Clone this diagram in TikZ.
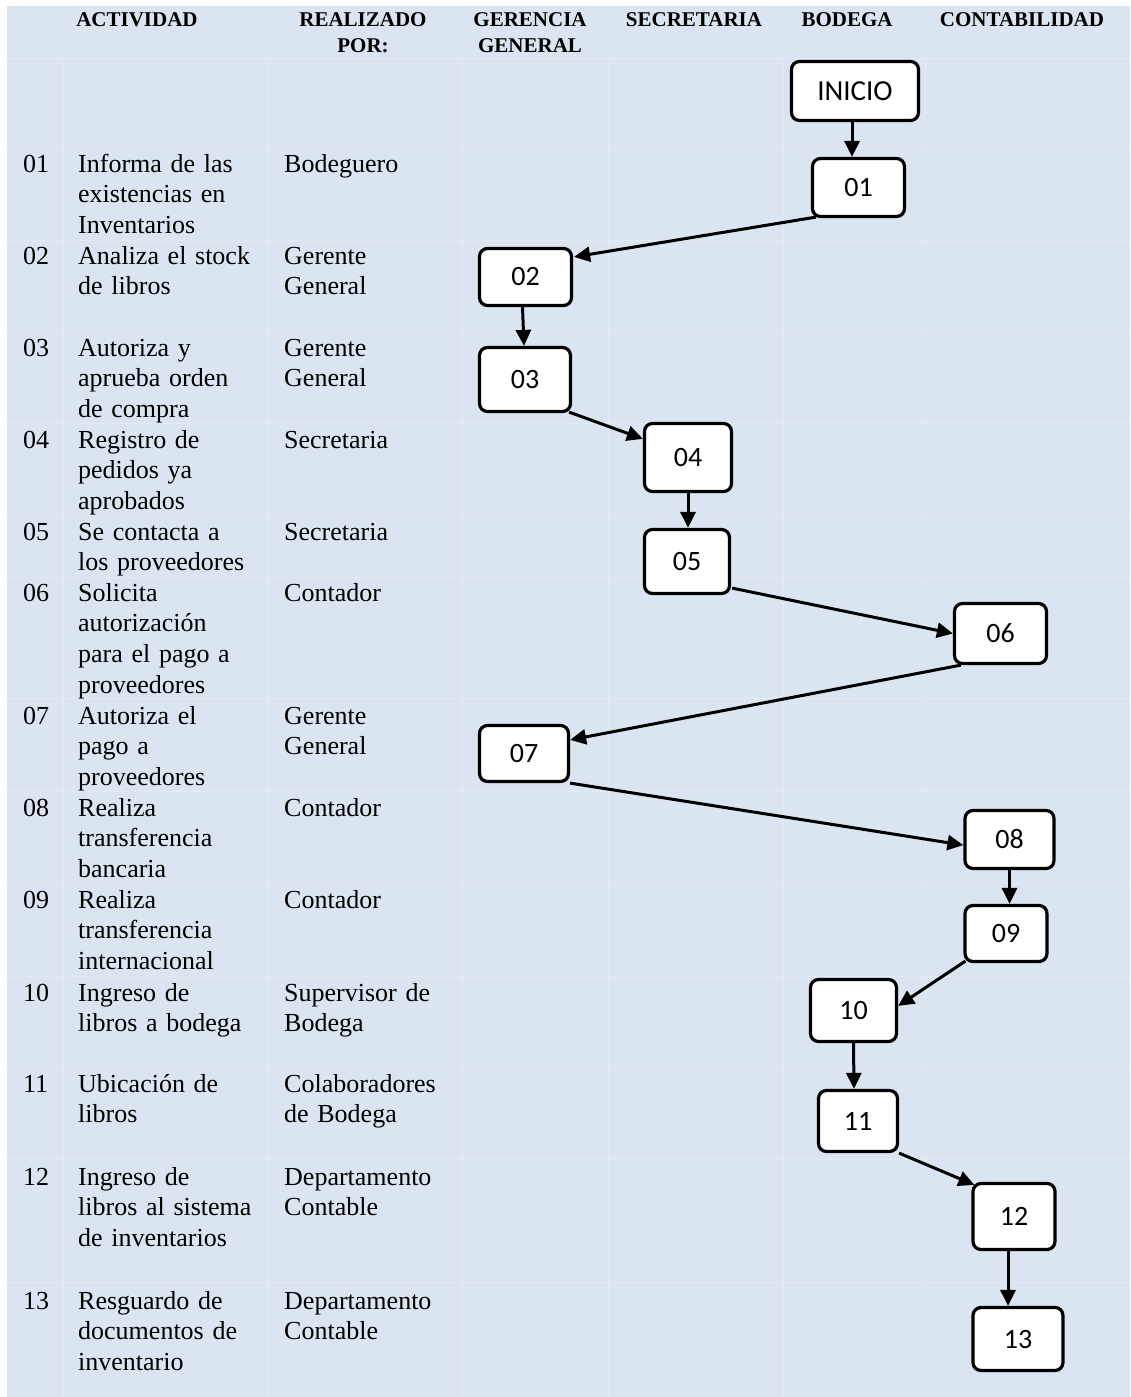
\documentclass[tikz,border=0pt]{standalone}
\usepackage{fontspec}
\setmainfont{Liberation Serif}
\newfontfamily\boxfont{Carlito}
\usetikzlibrary{arrows.meta,calc}
\definecolor{lanebg}{RGB}{219,229,241}
\definecolor{gridline}{RGB}{226,234,244}

\begin{document}
\begin{tikzpicture}[x=1pt,y=-1pt,
  stepbox/.style={draw=black, line width=3.2pt, fill=white, rounded corners=8pt,
    font=\boxfont\fontsize{28}{30}\selectfont, inner sep=0pt},
  flow/.style={line width=3pt, -{Triangle[length=16pt,width=15pt]}},
  head/.style={font=\bfseries\fontsize{21}{26}\selectfont, anchor=base,
    align=center, text width=200pt, inner sep=0pt},
  cell/.style={font=\fontsize{26}{30.8}\selectfont, anchor=base west,
    align=left, text width=200pt, inner sep=0pt},
  gridrule/.style={draw=gridline, line width=0.8pt}]

\useasboundingbox (0,0) rectangle (1130,1397);
\fill[lanebg] (7,6) rectangle (1130,1397);

% faint table rules
\foreach \gx in {63,268,462,608,783,925}
  \draw[gridrule] (\gx,58) -- (\gx,1397);
\foreach \gy in {58,148,240,332,423,515,577,698,791,883,976,1068,1159,1282}
  \draw[gridrule] (7,\gy) -- (1130,\gy);

% column headings
\node[head] (hAct) at (137,27) {ACTIVIDAD};
\node[head] (hPor) at (363,27) {REALIZADO\\POR:};
\node[head] (hGer) at (530,27) {GERENCIA\\GENERAL};
\node[head] (hSec) at (694,27) {SECRETARIA};
\node[head] (hBod) at (847,27) {BODEGA};
\node[head] (hCon) at (1022,27) {CONTABILIDAD};

% activity numbers, descriptions and who performs them
\foreach \num/\yb/\act/\who in {
  01/172/{Informa de las\\existencias en\\Inventarios}/{Bodeguero},
  02/264/{Analiza el stock\\de libros}/{Gerente\\General},
  03/356/{Autoriza y\\aprueba orden\\de compra}/{Gerente\\General},
  04/448/{Registro de\\pedidos ya\\aprobados}/{Secretaria},
  05/540/{Se contacta a\\los proveedores}/{Secretaria},
  06/601/{Solicita\\autorización\\para el pago a\\proveedores}/{Contador},
  07/724/{Autoriza el\\pago a\\proveedores}/{Gerente\\General},
  08/816/{Realiza\\transferencia\\bancaria}/{Contador},
  09/908/{Realiza\\transferencia\\internacional}/{Contador},
  10/1001/{Ingreso de\\libros a bodega}/{Supervisor de\\Bodega},
  11/1092/{Ubicación de\\libros}/{Colaboradores\\de Bodega},
  12/1185/{Ingreso de\\libros al sistema\\de inventarios}/{Departamento\\Contable},
  13/1309/{Resguardo de\\documentos de\\inventario}/{Departamento\\Contable}} {
  \node[cell] (num\num) at (23,\yb) {\num};
  \node[cell] (act\num) at (78,\yb) {\act};
  \node[cell] (who\num) at (284,\yb) {\who};
}

% flow steps
\node[stepbox, minimum width=127pt, minimum height=59pt,
  font=\boxfont\fontsize{29}{30}\selectfont] (nI) at (855,91) {INICIO};
\node[stepbox, minimum width=92pt, minimum height=58pt] (n01) at (858.5,187.5) {01};
\node[stepbox, minimum width=92pt, minimum height=57pt] (n02) at (525.5,277) {02};
\node[stepbox, minimum width=91pt, minimum height=64pt] (n03) at (525,379.5) {03};
\node[stepbox, minimum width=87pt, minimum height=68pt] (n04) at (688,457.5) {04};
\node[stepbox, minimum width=85pt, minimum height=64pt] (n05) at (687,561.5) {05};
\node[stepbox, minimum width=92pt, minimum height=60pt] (n06) at (1000.5,633.5) {06};
\node[stepbox, minimum width=89pt, minimum height=56pt] (n07) at (524,753.5) {07};
\node[stepbox, minimum width=89pt, minimum height=58pt] (n08) at (1009.5,839.5) {08};
\node[stepbox, minimum width=82pt, minimum height=56pt] (n09) at (1006,933.5) {09};
\node[stepbox, minimum width=86pt, minimum height=62pt] (n10) at (853.5,1010.5) {10};
\node[stepbox, minimum width=79pt, minimum height=61pt] (n11) at (858,1121) {11};
\node[stepbox, minimum width=82pt, minimum height=66pt] (n12) at (1014,1216.5) {12};
\node[stepbox, minimum width=90pt, minimum height=63pt] (n13) at (1018,1339) {13};

% connectors
\coordinate (cI) at ($(nI.south)+(-3,0)$);
\draw[flow] (cI) -- (cI |- n01.north);
\draw[flow] ($(n01.south west)+(5,-1)$) -- ($(n02.north east)+(1,10)$);
\draw[flow] ($(n02.south)+(-3,0)$) -- ($(n03.north)+(-1,0)$);
\draw[flow] ($(n03.south east)+(-3,-1)$) -- ($(n04.north west)+(0,17)$);
\draw[flow] (n04.south) -- (n04.south |- n05.north);
\draw[flow] ($(n05.south east)+(1,-7)$) -- (n06.west);
\draw[flow] ($(n06.south west)+(8,0)$) -- ($(n07.north east)+(0,16)$);
\draw[flow] (n07.south east) -- ($(n08.south west)+(0,-25)$);
\draw[flow] (n08.south) -- (n08.south |- n09.north);
\draw[flow] ($(n09.south west)+(2,-2)$) -- ($(n10.north east)+(0,28)$);
\draw[flow] (n10.south) -- ($(n11.north)+(-4,0)$);
\draw[flow] (n11.south east) -- ($(n12.north west)+(3,3)$);
\coordinate (c12) at ($(n12.south)+(-6,0)$);
\draw[flow] (c12) -- (c12 |- n13.north);
\end{tikzpicture}
\end{document}
